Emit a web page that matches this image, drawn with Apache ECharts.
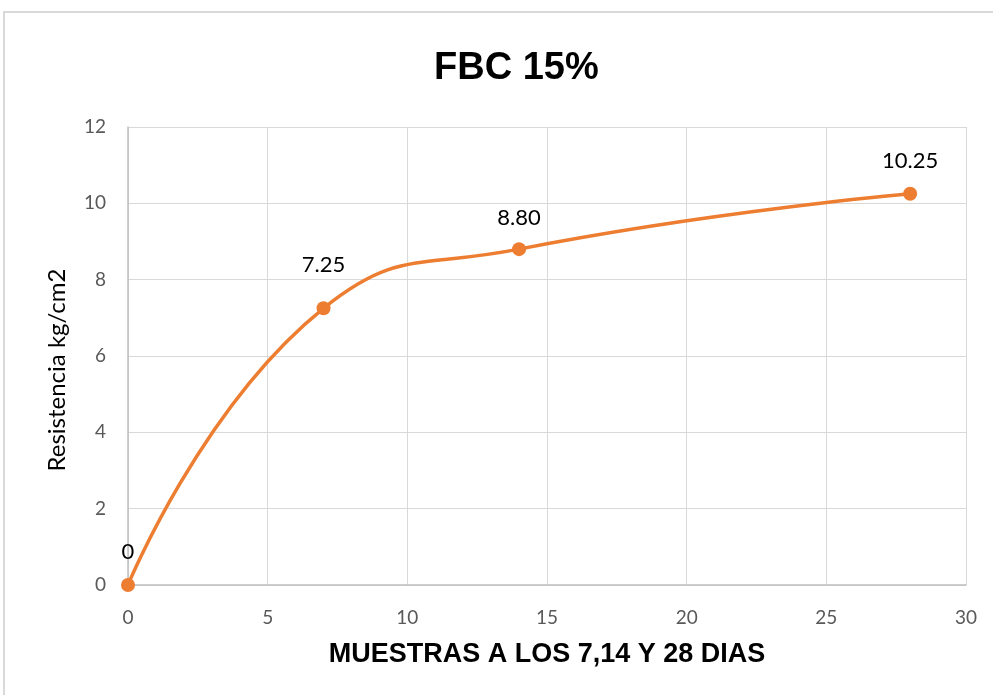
<!DOCTYPE html>
<html>
<head>
<meta charset="utf-8">
<script src="https://cdn.jsdelivr.net/npm/echarts@6/dist/echarts.min.js"></script>
<style>
  html, body { margin: 0; padding: 0; background: #fff; }
  #chart { width: 993px; height: 695px; }
</style>
</head>
<body>
<div id="chart"></div>
<script>
// Compressive strength samples at 0, 7, 14 and 28 days
const dias = [0, 7, 14, 28];
const resistencia = [0, 7.25, 8.80, 10.25];
const etiquetas = ['0', '7.25', '8.80', '10.25'];
const labelDistance = [15, 25, 13, 15];

const chart = echarts.init(document.getElementById('chart'));

const seriesData = dias.map((d, i) => ({
  value: [d, resistencia[i]],
  label: { distance: labelDistance[i], formatter: etiquetas[i] }
}));

chart.setOption({
  backgroundColor: '#ffffff',
  animation: false,
  title: {
    text: 'FBC 15%',
    left: 429,
    top: 45,
    textStyle: {
      fontFamily: 'Liberation Sans',
      fontWeight: 'bold',
      fontSize: 38,
      color: '#000000'
    }
  },
  graphic: [
    {
      type: 'rect',
      shape: { x: 4, y: 12, width: 1000, height: 700 },
      style: { fill: 'none', stroke: '#d9d9d9', lineWidth: 2 },
      silent: true
    },
    {
      // vertical axis title
      type: 'text',
      x: 57,
      y: 370,
      rotation: Math.PI / 2,
      style: {
        text: 'Resistencia kg/cm2',
        fontFamily: 'Lato',
        fontSize: 24,
        fill: '#000000',
        align: 'center',
        verticalAlign: 'middle'
      },
      silent: true
    }
  ],
  grid: { left: 128, right: 27, top: 127, bottom: 110 },
  xAxis: {
    type: 'value',
    min: 0,
    max: 30,
    interval: 5,
    name: 'MUESTRAS A LOS 7,14 Y 28 DIAS',
    nameLocation: 'middle',
    nameGap: 56,
    nameTextStyle: {
      fontFamily: 'Liberation Sans',
      fontWeight: 'bold',
      fontSize: 27,
      color: '#000000'
    },
    axisLine: { lineStyle: { color: '#bfbfbf', width: 1.5 } },
    axisTick: { show: false },
    axisLabel: { margin: 23, fontFamily: 'Lato', fontSize: 19, color: '#595959' },
    splitLine: { lineStyle: { color: '#d9d9d9', width: 1 } }
  },
  yAxis: {
    type: 'value',
    min: 0,
    max: 12,
    interval: 2,
    axisLine: { show: true, lineStyle: { color: '#bfbfbf', width: 1.5 } },
    axisTick: { show: false },
    axisLabel: { margin: 22, fontFamily: 'Lato', fontSize: 19, color: '#595959' },
    splitLine: { lineStyle: { color: '#d9d9d9', width: 1 } }
  },
  series: [{
    type: 'line',
    data: seriesData,
    smooth: 0.5,
    symbol: 'circle',
    symbolSize: 14,
    lineStyle: { color: '#ed7d31', width: 3.5 },
    itemStyle: { color: '#ed7d31' },
    label: {
      show: true,
      position: 'top',
      fontFamily: 'Lato',
      fontSize: 22,
      color: '#000000'
    }
  }]
});
</script>
</body>
</html>
